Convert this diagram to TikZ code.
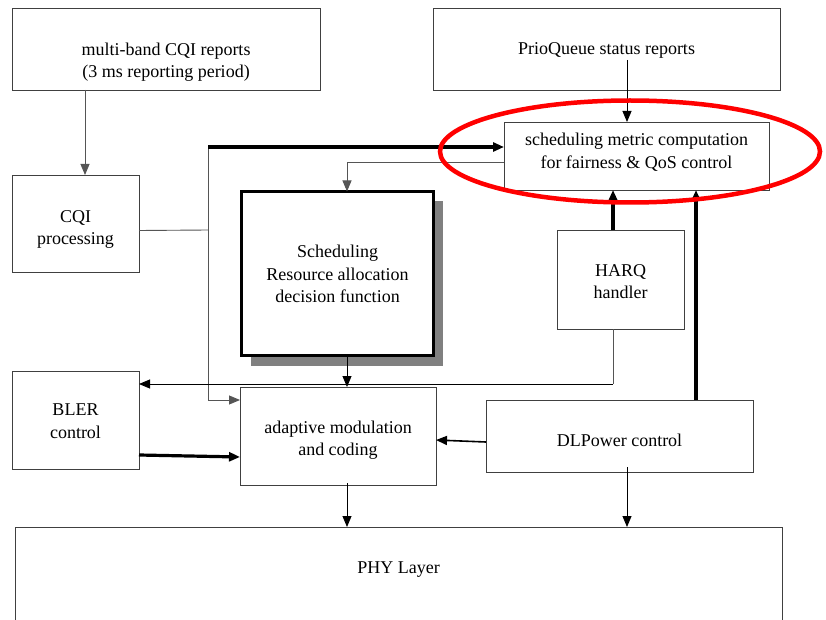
\documentclass[tikz,border=0pt]{standalone}
\usepackage{fontspec}
\setmainfont{Liberation Serif}
\usetikzlibrary{arrows.meta,shadows}

\definecolor{boxline}{HTML}{404040}
\definecolor{wire}{HTML}{555555}
\definecolor{shadowgray}{HTML}{808080}

\begin{document}
\begin{tikzpicture}[x=1pt,y=-1pt,
  font=\fontsize{18}{22.5}\selectfont,
  box/.style={draw=boxline, line width=0.9pt, fill=white, inner sep=0pt,
    outer sep=0pt},
  mainbox/.style={draw=black, line width=3pt, fill=white, inner sep=0pt,
    outer sep=0pt,
    drop shadow={shadow xshift=9pt, shadow yshift=-10pt, fill=shadowgray, opacity=1}},
  caption/.style={align=center, inner sep=0pt},
  tip/.style={-{Triangle[length=11pt,width=9pt]}},
  wireline/.style={draw=wire, line width=0.9pt},
  darkline/.style={draw=black, line width=0.9pt},
  heavyline/.style={draw=black, line width=3.2pt},
  ring/.style={draw=red, line width=4.5pt}]

\useasboundingbox (0,0) rectangle (826,620);

% blocks
\node[box, minimum width=308pt, minimum height=82pt] (cqirep) at (166,49) {};
\node[box, minimum width=347pt, minimum height=82pt] (prio) at (606.5,49) {};
\node[box, minimum width=265pt, minimum height=68pt] (metric) at (636.5,156) {};
\node[box, minimum width=127pt, minimum height=97pt] (cqiproc) at (75.5,223.5) {};
\node[mainbox, minimum width=192pt, minimum height=164pt] (sched) at (337.5,273.5) {};
\node[box, minimum width=127pt, minimum height=99pt] (harq) at (620.5,279.5) {};
\node[box, minimum width=127pt, minimum height=98pt] (bler) at (75.5,420) {};
\node[box, minimum width=196pt, minimum height=98pt] (amc) at (338,436) {};
\node[box, minimum width=267pt, minimum height=72pt] (dlpc) at (619.5,436) {};
\node[box, minimum width=767pt, minimum height=120pt, anchor=north] (phy) at (398.5,527) {};

% block texts
\node[caption] (cqirep-t) at (166,62) {multi-band CQI reports\\(3 ms reporting period)};
\node[caption] (prio-t) at (606.5,50) {PrioQueue status reports};
\node[caption] (metric-t) at (636.5,152) {scheduling metric computation\\for fairness \& QoS control};
\node[caption] (cqiproc-t) at (75.5,229.5) {CQI\\processing};
\node[caption] (sched-t) at (337.5,274) {Scheduling\\Resource allocation\\decision function};
\node[caption] (harq-t) at (620.5,281.5) {HARQ\\handler};
\node[caption] (bler-t) at (75.5,421) {BLER\\control};
\node[caption] (amc-t) at (338,440) {adaptive modulation\\and coding};
\node[caption] (dlpc-t) at (619.5,440) {DLPower control};
\node[caption] (phy-t) at (398.5,570) {PHY Layer};

% routing points
\coordinate (xa) at (85,0);
\coordinate (xs) at (347,0);
\coordinate (xh) at (613,0);
\coordinate (xd) at (696,0);
\coordinate (xp) at (627,0);
\coordinate (yb) at (0,384);
\coordinate (hcorner) at (613,384);
\coordinate (jtop) at (208,147);
\coordinate (jmid) at (208,230);
\coordinate (jbot) at (208,400);
\coordinate (pstart) at (627,60);

% connectors
\draw[wireline, tip] (cqirep.south -| xa) -- (cqiproc.north -| xa);
\draw[wireline] ([yshift=-7pt]cqiproc.east) -- (jmid);
\draw[wireline, tip] (jtop) -- (jbot) -- (amc.west |- jbot);
\draw[heavyline, tip] (jtop) -- (metric.west |- jtop);
\draw[wireline, tip] ([yshift=-6pt]metric.west) -| (sched.north -| xs);
\draw[darkline, tip] (pstart) -- (metric.north -| xp);
\draw[darkline, tip] (sched.south -| xs) -- (amc.north -| xs);
\draw[wireline] (harq.south -| xh) -- (hcorner);
\draw[darkline, tip] (hcorner) -- (bler.east |- yb);
\draw[heavyline, tip] ([yshift=-35pt]bler.east) -- ([yshift=-21pt]amc.west);
\draw[darkline, line width=1.6pt, tip] ([yshift=-6pt]dlpc.west) -- ([yshift=-4pt]amc.east);
\draw[heavyline, tip] (harq.north -| xh) -- (metric.south -| xh);
\draw[heavyline, tip] (dlpc.north -| xd) -- (metric.south -| xd);
\draw[darkline, tip] ([yshift=2pt]amc.south -| xs) -- (phy.north -| xs);
\draw[darkline, tip] ([yshift=5pt]dlpc.south -| xp) -- (phy.north -| xp);

% highlight ring
\draw[ring] (630,151.5) ellipse [x radius=190, y radius=51];
\end{tikzpicture}
\end{document}
